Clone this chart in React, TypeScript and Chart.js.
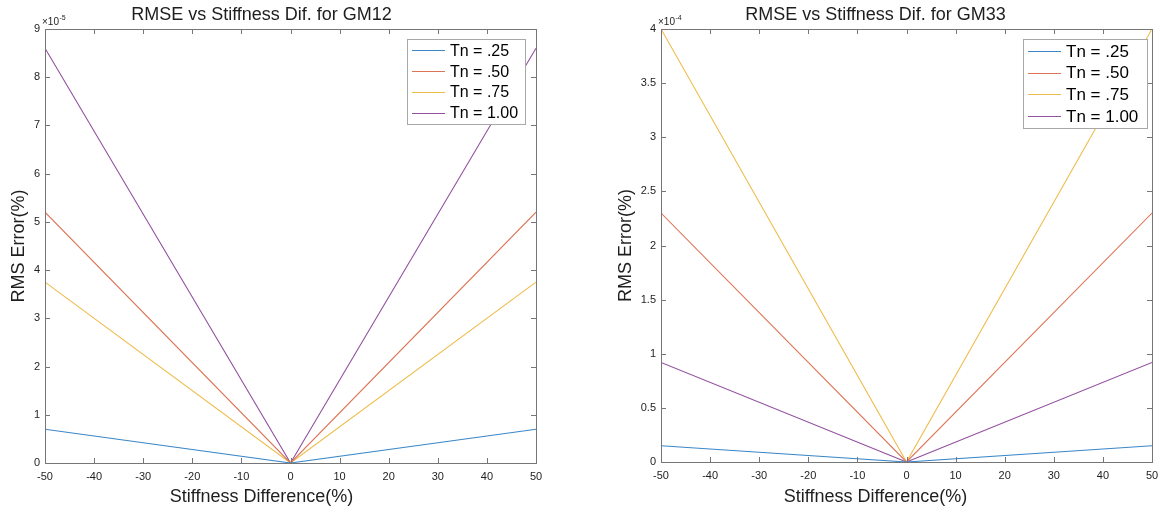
import React, { useEffect, useRef } from "react";
import { Chart, registerables } from "chart.js";

Chart.register(...registerables);

// ---------- data ----------
const STIFFNESS_DIFF = [-50, 0, 50];
const SERIES_LABELS = ["Tn = .25", "Tn = .50", "Tn = .75", "Tn = 1.00"];
const SERIES_COLORS = ["#3b87c8", "#dc7455", "#eebc4c", "#92509f"];
const X_TITLE = "Stiffness Difference(%)";
const Y_TITLE = "RMS Error(%)";

// GM12 values, in units of 1e-5
const GM12_TITLE = "RMSE vs Stiffness Dif. for GM12";
const GM12_EXPONENT = -5;
const GM12_TN025 = [0.7, 0, 0.7];
const GM12_TN050 = [5.2, 0, 5.2];
const GM12_TN075 = [3.75, 0, 3.75];
const GM12_TN100 = [8.6, 0, 8.6];

// GM33 values, in units of 1e-4
const GM33_TITLE = "RMSE vs Stiffness Dif. for GM33";
const GM33_EXPONENT = -4;
const GM33_TN025 = [0.15, 0, 0.15];
const GM33_TN050 = [2.3, 0, 2.3];
const GM33_TN075 = [4.0, 0, 4.0];
const GM33_TN100 = [0.92, 0, 0.92];

// ---------- style ----------
const FONT = "'Liberation Sans', Arial, Helvetica, sans-serif";
const TEXT = "#1e1e1e";
const AXIS = "#767676";

type Spec = {
  title: string;
  exponent: number;
  series: number[][];
  yMax: number;
  yStep: number;
  canvasLeft: number;
  canvasWidth: number;
  padLeft: number;
  padRight: number;
  yAxisWidth: number;
  yTitlePad: number;
  xAxisHeight: number;
  titleShift: number;
  legendGap: number;
  legendW: number;
  legendH: number;
  legendFont: number;
};

const SPECS: Spec[] = [
  {
    title: GM12_TITLE,
    exponent: GM12_EXPONENT,
    series: [GM12_TN025, GM12_TN050, GM12_TN075, GM12_TN100],
    yMax: 9,
    yStep: 1,
    canvasLeft: 0,
    canvasWidth: 580,
    padLeft: 0,
    padRight: 44,
    yAxisWidth: 45,
    yTitlePad: 8,
    xAxisHeight: 47,
    titleShift: -29,
    legendGap: 11,
    legendW: 118,
    legendH: 85,
    legendFont: 16,
  },
  {
    title: GM33_TITLE,
    exponent: GM33_EXPONENT,
    series: [GM33_TN025, GM33_TN050, GM33_TN075, GM33_TN100],
    yMax: 4,
    yStep: 0.5,
    canvasLeft: 580,
    canvasWidth: 578,
    padLeft: 30,
    padRight: 6,
    yAxisWidth: 51,
    yTitlePad: 5,
    xAxisHeight: 48,
    titleShift: -31,
    legendGap: 5,
    legendW: 124,
    legendH: 89,
    legendFont: 17,
  },
];

function fmt(v: number): string {
  return String(Math.round(v * 1000) / 1000);
}

function matlabPlugin(spec: Spec) {
  return {
    id: "matlabAxes",
    afterDraw(chart: any) {
      const { ctx, chartArea: a, scales } = chart;
      const xs = scales.x;
      const ys = scales.y;
      ctx.save();
      // box
      ctx.strokeStyle = AXIS;
      ctx.lineWidth = 1;
      ctx.strokeRect(Math.round(a.left) + 0.5, Math.round(a.top) + 0.5, Math.round(a.right - a.left), Math.round(a.bottom - a.top));
      // inward ticks
      const TL = 5;
      ctx.beginPath();
      xs.ticks.forEach((t: any) => {
        const px = Math.round(xs.getPixelForValue(t.value)) + 0.5;
        ctx.moveTo(px, a.bottom);
        ctx.lineTo(px, a.bottom - TL);
        ctx.moveTo(px, a.top);
        ctx.lineTo(px, a.top + TL);
      });
      ys.ticks.forEach((t: any) => {
        const py = Math.round(ys.getPixelForValue(t.value)) + 0.5;
        ctx.moveTo(a.left, py);
        ctx.lineTo(a.left + TL, py);
        ctx.moveTo(a.right, py);
        ctx.lineTo(a.right - TL, py);
      });
      ctx.stroke();

      const cx = (a.left + a.right) / 2 + spec.titleShift;
      // title
      ctx.fillStyle = TEXT;
      ctx.textAlign = "center";
      ctx.textBaseline = "middle";
      ctx.font = `18px ${FONT}`;
      ctx.fillText(spec.title, cx, 15);
      // x axis title
      ctx.fillText(X_TITLE, cx, chart.height - 13);

      // exponent label
      ctx.textBaseline = "alphabetic";
      ctx.textAlign = "left";
      ctx.font = `10px ${FONT}`;
      const ex = a.left - 3;
      const ey = a.top - 4;
      ctx.fillText("\u00d710", ex, ey);
      const w = ctx.measureText("\u00d710").width;
      ctx.font = `7px ${FONT}`;
      ctx.fillText(String(spec.exponent), ex + w + 0.5, ey - 5);

      // legend
      const bx = Math.round(a.right - spec.legendGap - spec.legendW);
      const by = Math.round(a.top + 10);
      ctx.fillStyle = "#ffffff";
      ctx.fillRect(bx, by, spec.legendW, spec.legendH);
      ctx.strokeStyle = "#a8a8a8";
      ctx.strokeRect(bx + 0.5, by + 0.5, spec.legendW, spec.legendH);
      const rowH = (spec.legendH - 2) / 4;
      chart.data.datasets.forEach((ds: any, i: number) => {
        const cy = by + 1 + rowH * (i + 0.5);
        ctx.strokeStyle = ds.borderColor;
        ctx.lineWidth = 1;
        ctx.beginPath();
        ctx.moveTo(bx + 5, Math.round(cy) + 0.5);
        ctx.lineTo(bx + 38, Math.round(cy) + 0.5);
        ctx.stroke();
        ctx.fillStyle = "#000";
        ctx.font = `${spec.legendFont}px ${FONT}`;
        ctx.textBaseline = "middle";
        ctx.fillText(ds.label, bx + 43, cy + 1);
      });
      ctx.restore();
    },
  };
}

function MatlabChart({ spec }: { spec: Spec }) {
  const ref = useRef<HTMLCanvasElement>(null);
  useEffect(() => {
    const chart = new Chart(ref.current as HTMLCanvasElement, {
      type: "line",
      data: {
        datasets: spec.series.map((vals, i) => ({
          label: SERIES_LABELS[i],
          data: STIFFNESS_DIFF.map((x, j) => ({ x, y: vals[j] })),
          borderColor: SERIES_COLORS[i],
          backgroundColor: SERIES_COLORS[i],
          borderWidth: 1.1,
          pointRadius: 0,
          tension: 0,
          fill: false,
        })),
      },
      options: {
        animation: false,
        responsive: false,
        devicePixelRatio: 1,
        layout: { padding: { left: spec.padLeft, right: spec.padRight, top: 29, bottom: 0 } },
        plugins: {
          legend: { display: false },
          tooltip: { enabled: false },
          title: { display: false },
        },
        scales: {
          x: {
            type: "linear",
            min: -50,
            max: 50,
            grid: { display: false, drawTicks: false },
            border: { display: false },
            ticks: {
              stepSize: 10,
              padding: 7,
              autoSkip: false,
              maxRotation: 0,
              color: TEXT,
              font: { family: FONT, size: 11 },
              callback: (v: any) => fmt(Number(v)),
            },
            title: { display: false, text: X_TITLE },
            afterFit: (s: any) => {
              s.height = spec.xAxisHeight;
              s.paddingLeft = 0;
              s.paddingRight = 0;
            },
          },
          y: {
            type: "linear",
            min: 0,
            max: spec.yMax,
            grid: { display: false, drawTicks: false },
            border: { display: false },
            ticks: {
              stepSize: spec.yStep,
              padding: 5,
              autoSkip: false,
              color: TEXT,
              font: { family: FONT, size: 11 },
              callback: (v: any) => fmt(Number(v)),
            },
            title: {
              display: true,
              text: Y_TITLE,
              color: TEXT,
              font: { family: FONT, size: 18 },
              padding: { top: spec.yTitlePad, bottom: 0 },
            },
            afterFit: (s: any) => {
              s.width = spec.yAxisWidth;
              s.paddingTop = 0;
              s.paddingBottom = 0;
            },
          },
        },
      } as any,
      plugins: [matlabPlugin(spec)],
    });
    return () => chart.destroy();
  }, [spec]);
  return (
    <canvas
      ref={ref}
      width={spec.canvasWidth}
      height={510}
      style={{ position: "absolute", left: spec.canvasLeft, top: 0, width: spec.canvasWidth, height: 510 }}
    />
  );
}

export default function App() {
  return (
    <div style={{ position: "fixed", left: 0, top: 0, width: 1158, height: 510, background: "#fff", overflow: "hidden" }}>
      {SPECS.map((s) => (
        <MatlabChart key={s.title} spec={s} />
      ))}
    </div>
  );
}
